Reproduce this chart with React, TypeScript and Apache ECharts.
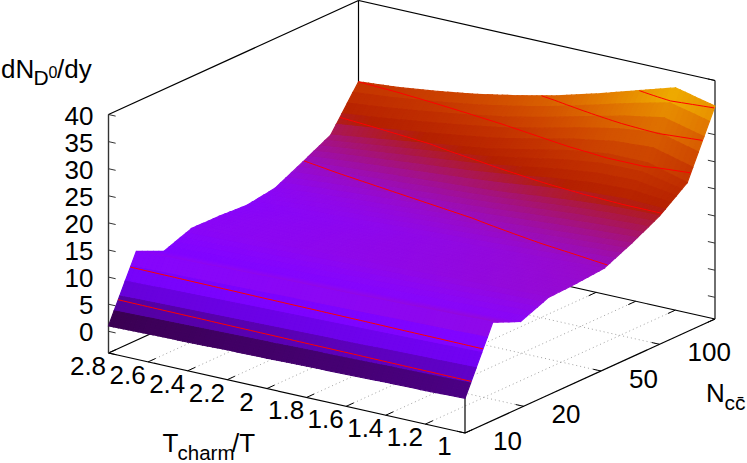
import React, { useEffect, useRef } from "react";
import * as echarts from "echarts";

// dN/dy surface, rows = N grid (log spaced, N=10 -> 190), columns = Tcharm/T grid (2.8 -> 1)
const zGrid: number[][] = [
  [1.0, 1.2, 1.3, 1.5, 1.6, 1.8, 1.9, 2.1, 2.2, 2.4],
  [12.4, 12.6, 12.8, 13.0, 13.2, 13.3, 13.5, 13.7, 13.9, 14.1],
  [10.1, 10.3, 10.5, 10.7, 10.9, 11.1, 11.3, 11.5, 11.7, 11.9],
  [12.0, 12.2, 12.4, 12.7, 12.9, 13.1, 13.3, 13.6, 13.8, 14.0],
  [11.9, 12.2, 12.4, 12.7, 13.0, 13.2, 13.5, 13.7, 14.0, 14.25],
  [11.6, 12.0, 12.3, 12.6, 13.0, 13.3, 13.6, 14.0, 14.3, 14.7],
  [12.4, 13.0, 13.5, 14.0, 14.5, 15.0, 15.5, 16.0, 16.5, 17.0],
  [14.9, 15.5, 16.0, 16.5, 17.0, 17.5, 18.3, 19.0, 19.5, 19.7],
  [17.5, 18.5, 19.5, 20.5, 21.5, 23.0, 24.5, 25.5, 25.5, 23.5],
  [25.0, 25.6, 26.5, 27.6, 29.0, 30.6, 32.6, 34.8, 37.0, 35.3],
];
const contourLevels = [5, 10, 15, 20, 25, 30, 35];
const tempTicks = ["2.8", "2.6", "2.4", "2.2", "2", "1.8", "1.6", "1.4", "1.2", "1"];
const nccTicks = ["10", "20", "50", "100"];
const zTicks = ["0", "5", "10", "15", "20", "25", "30", "35", "40"];

const FONT = "Liberation Sans";
const SUB_U = 5;
const SUB_V = 8;
const Z_MIN = -4;
const Z_MAX = 40;
const CB_MIN = 0;
const CB_MAX = 41;

type P = [number, number];
const project = (u: number, v: number, z: number): P => [
  108.5 + 250 * u + 356.5 * v,
  353 - 114 * u + 80 * v - (z - Z_MIN) * 5.42,
];
const uOfN = (n: number) => Math.log10(n / 10) / 1.285;
const vOfT = (t: number) => (2.8 - t) / 1.8;

const nu = zGrid.length - 1;
const nv = zGrid[0].length - 1;
const zAt = (iu: number, iv: number) => {
  const a = Math.min(Math.floor(iu), nu - 1);
  const b = Math.min(Math.floor(iv), nv - 1);
  const fu = iu - a;
  const fv = iv - b;
  return (
    zGrid[a][b] * (1 - fu) * (1 - fv) +
    zGrid[a + 1][b] * fu * (1 - fv) +
    zGrid[a][b + 1] * (1 - fu) * fv +
    zGrid[a + 1][b + 1] * fu * fv
  );
};
const palette = (z: number) => {
  const g = Math.max(0, Math.min(1, (z - CB_MIN) / (CB_MAX - CB_MIN)));
  const r = Math.sqrt(g);
  const gr = g * g * g;
  const b = Math.max(0, Math.sin(2 * Math.PI * g));
  return `rgb(${Math.round(r * 255)},${Math.round(gr * 255)},${Math.round(b * 255)})`;
};

type Quad = { pts: P[]; fill: string };
const quads: Quad[] = [];
const order: { iu: number; iv: number; key: number }[] = [];
for (let i = 0; i < nu * SUB_U; i++) {
  for (let j = 0; j < nv * SUB_V; j++) {
    order.push({ iu: i, iv: j, key: i / (nu * SUB_U) - j / (nv * SUB_V) });
  }
}
order.sort((a, b) => b.key - a.key);
order.forEach(({ iu, iv }) => {
  const u0 = iu / SUB_U;
  const u1 = (iu + 1) / SUB_U;
  const v0 = iv / SUB_V;
  const v1 = (iv + 1) / SUB_V;
  const corners: P[] = [
    [u0, v0],
    [u1, v0],
    [u1, v1],
    [u0, v1],
  ];
  const zs = corners.map(([a, b]) => zAt(a, b));
  quads.push({
    pts: corners.map(([a, b], k) => project(a / nu, b / nv, zs[k])),
    fill: palette((zs[0] + zs[1] + zs[2] + zs[3]) / 4),
  });
});

const contourSegs: [P, P][] = [];
contourLevels.forEach((lv) => {
  for (let i = 0; i < nu * SUB_U; i++) {
    for (let j = 0; j < nv * SUB_V; j++) {
      const c: P[] = [
        [i / SUB_U, j / SUB_V],
        [(i + 1) / SUB_U, j / SUB_V],
        [(i + 1) / SUB_U, (j + 1) / SUB_V],
        [i / SUB_U, (j + 1) / SUB_V],
      ];
      const zs = c.map(([a, b]) => zAt(a, b));
      const hits: P[] = [];
      for (let k = 0; k < 4; k++) {
        const m = (k + 1) % 4;
        if (zs[k] < lv !== zs[m] < lv) {
          const f = (lv - zs[k]) / (zs[m] - zs[k]);
          hits.push(
            project(
              (c[k][0] + f * (c[m][0] - c[k][0])) / nu,
              (c[k][1] + f * (c[m][1] - c[k][1])) / nv,
              lv
            )
          );
        }
      }
      for (let k = 0; k + 1 < hits.length; k += 2) contourSegs.push([hits[k], hits[k + 1]]);
    }
  }
});

type Seg = { a: P; b: P; stroke: string; width: number; dash?: number[] };
const gridSegs: Seg[] = [];
const frameSegs: Seg[] = [];
const GRID = "#8a8a8a";
tempTicks.forEach((t) => {
  const v = vOfT(parseFloat(t));
  if (v > 0 && v < 1) {
    gridSegs.push({ a: project(0, v, Z_MIN), b: project(1, v, Z_MIN), stroke: GRID, width: 0.8, dash: [1, 3] });
  }
  frameSegs.push({ a: project(0, v, Z_MIN), b: project(0.03, v, Z_MIN), stroke: "#000", width: 1 });
  frameSegs.push({ a: project(1, v, Z_MIN), b: project(0.97, v, Z_MIN), stroke: "#000", width: 1 });
});
nccTicks.forEach((t) => {
  const u = uOfN(parseFloat(t));
  if (u > 0 && u < 1) {
    gridSegs.push({ a: project(u, 0, Z_MIN), b: project(u, 1, Z_MIN), stroke: GRID, width: 0.8, dash: [1, 3] });
  }
  frameSegs.push({ a: project(u, 1, Z_MIN), b: project(u, 0.978, Z_MIN), stroke: "#000", width: 1 });
  frameSegs.push({ a: project(u, 0, Z_MIN), b: project(u, 0.022, Z_MIN), stroke: "#000", width: 1 });
});
zTicks.forEach((t) => {
  const z = parseFloat(t);
  frameSegs.push({ a: project(0, 0, z), b: project(0, 0.02, z), stroke: "#333", width: 1 });
  frameSegs.push({ a: project(1, 1, z), b: project(1, 0.98, z), stroke: "#333", width: 1 });
});
const edge = (a: P, b: P, stroke = "#000", width = 1.2) => frameSegs.push({ a, b, stroke, width });
edge(project(0, 0, Z_MIN), project(0, 1, Z_MIN));
edge(project(0, 1, Z_MIN), project(1, 1, Z_MIN));
edge(project(1, 1, Z_MIN), project(1, 0, Z_MIN));
edge(project(1, 0, Z_MIN), project(0, 0, Z_MIN));
edge(project(0, 0, Z_MIN), project(0, 0, Z_MAX), "#333", 1.4);
edge(project(1, 1, Z_MIN), project(1, 1, Z_MAX), "#333", 1.4);
edge(project(1, 0, Z_MIN), project(1, 0, Z_MAX));
edge(project(0, 1, Z_MIN), project(0, 1, Z_MAX));
edge(project(0, 0, Z_MAX), project(1, 0, Z_MAX));
edge(project(1, 0, Z_MAX), project(1, 1, Z_MAX));

type Label = { text: string; at: P; size: number; align: string };
const labels: Label[] = [];
const base = (x: number, baseline: number, size: number, text: string, align = "left"): Label => ({
  text,
  at: [x, baseline - 0.347 * size],
  size,
  align,
});
tempTicks.forEach((t) => {
  const [x, y] = project(0, vOfT(parseFloat(t)), Z_MIN);
  labels.push({ text: t, at: [x - 20.5, y + 13], size: 26, align: "center" });
});
nccTicks.forEach((t) => {
  const [x, y] = project(uOfN(parseFloat(t)), 1, Z_MIN);
  labels.push({ text: t, at: [x + 28, y + 8], size: 26, align: "left" });
});
zTicks.forEach((t) => {
  const [x, y] = project(0, 0, parseFloat(t));
  labels.push({ text: t, at: [x - 15, y + 1], size: 26, align: "right" });
});
labels.push(base(1, 78, 26, "dN"));
labels.push(base(33.5, 85, 21, "D"));
labels.push(base(48.5, 78, 16, "0"));
labels.push(base(57, 78, 26, "/dy"));
labels.push(base(162.5, 452, 26, "T"));
labels.push(base(177.5, 459.5, 20.5, "charm"));
labels.push(base(232, 452, 26, "/T"));
labels.push(base(706, 402, 26, "N"));
labels.push(base(724.5, 410, 21, "cc\u0304"));

const listData = (n: number) => Array.from({ length: n }, (_, i) => [i]);

export default function App() {
  const ref = useRef<HTMLDivElement>(null);
  useEffect(() => {
    const chart = echarts.init(ref.current!, undefined, { renderer: "svg" });
    const segSeries = (list: Seg[], z: number) => ({
      type: "custom",
      coordinateSystem: "cartesian2d",
      silent: true,
      clip: false,
      z,
      data: listData(list.length),
      renderItem: (p: any, api: any) => {
        const s = list[p.dataIndex];
        const a = api.coord(s.a);
        const b = api.coord(s.b);
        return {
          type: "line",
          shape: { x1: a[0], y1: a[1], x2: b[0], y2: b[1] },
          style: { stroke: s.stroke, lineWidth: s.width, lineDash: s.dash, fill: null },
        };
      },
    });
    chart.setOption({
      animation: false,
      backgroundColor: "#fff",
      grid: { left: 0, right: 0, top: 0, bottom: 0 },
      xAxis: { type: "value", min: 0, max: 747, show: false },
      yAxis: { type: "value", min: 0, max: 463, inverse: true, show: false },
      series: [
        segSeries(gridSegs, 1),
        segSeries(frameSegs, 2),
        {
          type: "custom",
          coordinateSystem: "cartesian2d",
          silent: true,
          clip: false,
          z: 3,
          data: listData(quads.length),
          renderItem: (p: any, api: any) => {
            const q = quads[p.dataIndex];
            return {
              type: "polygon",
              shape: { points: q.pts.map((c) => api.coord(c)) },
              style: { fill: q.fill, stroke: q.fill, lineWidth: 1.2 },
            };
          },
        },
        {
          type: "custom",
          coordinateSystem: "cartesian2d",
          silent: true,
          clip: false,
          z: 4,
          data: listData(contourSegs.length),
          renderItem: (p: any, api: any) => {
            const [a0, b0] = contourSegs[p.dataIndex];
            const a = api.coord(a0);
            const b = api.coord(b0);
            return {
              type: "line",
              shape: { x1: a[0], y1: a[1], x2: b[0], y2: b[1] },
              style: { stroke: "#ff0000", lineWidth: 1, fill: null },
            };
          },
        },
        {
          type: "custom",
          coordinateSystem: "cartesian2d",
          silent: true,
          clip: false,
          z: 5,
          data: listData(labels.length),
          renderItem: (p: any, api: any) => {
            const l = labels[p.dataIndex];
            const c = api.coord(l.at);
            return {
              type: "text",
              style: {
                x: c[0],
                y: c[1],
                text: l.text,
                fill: "#000",
                font: `${l.size}px "${FONT}"`,
                textAlign: l.align,
                textVerticalAlign: "middle",
              },
            };
          },
        },
      ],
    });
    return () => chart.dispose();
  }, []);
  return <div ref={ref} style={{ position: "absolute", left: 0, top: 0, width: 747, height: 463 }} />;
}
